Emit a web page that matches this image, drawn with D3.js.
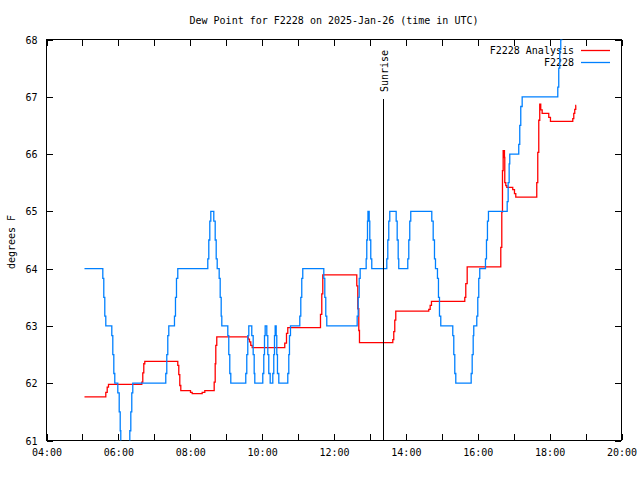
<!DOCTYPE html>
<html><head><meta charset="utf-8">
<script src="https://cdn.jsdelivr.net/npm/d3@7"></script>
<style>
body{margin:0;background:#fff}
text{font-family:"DejaVu Sans Mono","Liberation Mono",monospace;font-size:10px;fill:#000}
</style>
</head><body>
<svg id="c" width="640" height="480"></svg>
<script>
const titleText = "Dew Point for F2228 on 2025-Jan-26 (time in UTC)";
const yAxisLabel = "degrees F";
const xTickHours = [4,5,6,7,8,9,10,11,12,13,14,15,16,17,18,19,20];
const xTickLabels = ["04:00","","06:00","","08:00","","10:00","","12:00","","14:00","","16:00","","18:00","","20:00"];
const yTicks = [61,62,63,64,65,66,67,68];
const sunriseHour = 13.357;
const sunriseLabel = "Sunrise";
const seriesNames = ["F2228 Analysis","F2228"];
const seriesColors = ["#ff0000","#0080ff"];

// F2228 observations (hours UTC, degrees F)
const obsTimes = [5.057,5.567,5.594,5.622,5.650,5.817,5.845,5.873,5.900,5.984,6.023,6.051,6.067,6.318,6.346,6.373,6.401,
 7.319,7.347,7.375,7.403,7.561,7.589,7.617,7.653,8.488,8.516,8.544,8.572,8.655,8.694,8.722,8.750,8.805,8.833,8.861,8.878,
 9.045,9.072,9.100,9.128,9.545,9.573,9.601,9.629,9.712,9.751,9.779,9.796,10.018,10.046,10.066,10.085,10.130,10.158,10.185,10.224,
 10.297,10.324,10.344,10.363,10.391,10.408,10.427,10.464,10.714,10.742,10.761,10.789,11.048,11.076,11.103,11.131,
 11.716,11.744,11.771,11.799,12.645,12.673,12.701,12.728,12.895,12.912,12.932,12.945,12.979,12.996,13.023,13.051,
 13.469,13.497,13.524,13.552,13.730,13.758,13.786,13.802,14.053,14.081,14.108,14.136,14.721,14.760,14.796,14.824,
 14.879,14.907,14.935,14.971,15.305,15.333,15.361,15.389,15.817,15.845,15.873,15.889,15.973,16.001,16.028,16.056,
 16.215,16.243,16.270,16.298,16.819,16.846,16.874,16.891,17.141,17.169,17.197,17.236,18.227,18.254,18.282,18.310,18.338];
const obsValues = [64,63.83,63.5,63.17,63,62.83,62.5,62.17,62,61.83,61.5,61.17,60.5,61.17,61.5,61.83,62,
 62.17,62.5,62.83,63,63.17,63.5,63.83,64,64.17,64.5,64.83,65,64.83,64.5,64.17,64,63.83,63.5,63.17,63,
 62.83,62.5,62.17,62,62.17,62.5,62.83,63,62.83,62.5,62.17,62,62.17,62.5,62.83,63,62.83,62.5,62.17,62,
 62.17,62.5,62.83,63,62.83,62.5,62.17,62,62.17,62.5,62.83,63,63.17,63.5,63.83,64,
 63.83,63.5,63.17,63,63.17,63.5,63.83,64,64.17,64.5,64.83,65,64.83,64.5,64.17,64,
 64.17,64.5,64.83,65,64.83,64.5,64.17,64,64.17,64.5,64.83,65,64.83,64.5,64.17,64,
 63.83,63.5,63.17,63,62.83,62.5,62.17,62,62.17,62.5,62.83,63,63.17,63.5,63.83,64,
 64.17,64.5,64.83,65,65.17,65.5,65.83,66,66.17,66.5,66.83,67,67.17,67.5,67.83,68,68.17];

// F2228 Analysis (hours UTC, degrees F)
const anaTimes = [5.057,5.650,5.689,5.725,6.652,6.679,6.707,6.735,7.653,7.681,7.709,7.737,8.007,8.054,8.332,8.405,
 8.666,8.694,8.711,8.738,9.612,9.648,9.684,9.723,10.630,10.678,10.714,11.624,11.660,11.688,12.634,12.662,12.690,12.709,
 13.636,13.663,13.691,13.719,14.637,14.676,14.712,15.639,15.667,15.706,16.641,16.669,16.688,16.707,16.743,16.752,16.780,16.808,
 16.974,17.022,17.058,17.642,17.670,17.698,17.725,17.753,17.792,17.976,18.023,18.644,18.672,18.699,18.727,18.740];
const anaValues = [61.76,61.84,61.93,61.98,62.02,62.18,62.34,62.38,62.31,62.15,61.96,61.87,61.84,61.82,61.84,61.87,
 62.02,62.34,62.66,62.81,62.77,62.72,62.66,62.62,62.70,62.87,62.97,63.20,63.56,63.89,63.70,63.30,62.92,62.71,
 62.76,62.90,63.10,63.26,63.29,63.36,63.43,63.50,63.74,64.03,64.37,64.99,65.71,66.06,65.94,65.50,65.45,65.42,
 65.38,65.31,65.25,65.50,66.03,66.59,66.87,66.77,66.71,66.64,66.57,66.62,66.71,66.78,66.85,66.85];

const svg = d3.select("#c");
const L = 46.5, R = 621.5, T = 39.5, B = 440.5;
const x = d3.scaleLinear().domain([4,20]).range([L,R]);
const y = d3.scaleLinear().domain([61,68]).range([B,T]);

svg.append("rect").attr("width",640).attr("height",480).attr("fill","#fff");

// title
svg.append("text").attr("x",(L+R)/2).attr("y",21).attr("text-anchor","middle")
  .attr("dominant-baseline","middle").text(titleText);

// y label
svg.append("text").attr("transform","translate(12,242) rotate(-90)").attr("text-anchor","middle")
  .attr("dominant-baseline","middle").text(yAxisLabel);

// axes
const gB = svg.append("g").attr("transform",`translate(0,${B-0.5})`)
  .call(d3.axisBottom(x).tickValues(xTickHours).tickSize(-6).tickPadding(9)
    .tickFormat((d,i)=>xTickLabels[i]));
const gT = svg.append("g").attr("transform",`translate(0,${T})`)
  .call(d3.axisTop(x).tickValues(xTickHours).tickSize(-6).tickFormat(""));
const gL = svg.append("g").attr("transform",`translate(${L},0)`)
  .call(d3.axisLeft(y).tickValues(yTicks).tickSize(-6).tickPadding(9).tickFormat(d3.format("d")));
const gR = svg.append("g").attr("transform",`translate(${R-0.5},0)`)
  .call(d3.axisRight(y).tickValues(yTicks).tickSize(-6).tickFormat(""));
[gB,gT,gL,gR].forEach(g=>{
  g.select(".domain").remove();
  g.selectAll("line").attr("stroke","#000").attr("shape-rendering","crispEdges");
  g.selectAll("text").attr("font-family",null).attr("font-size",null).attr("fill","#000");
});
gL.selectAll("text").attr("dy","0.35em");

// frame
svg.append("rect").attr("x",L).attr("y",T).attr("width",R-L-0.5).attr("height",B-T-0.5)
  .attr("fill","none").attr("stroke","#000").attr("shape-rendering","crispEdges");

// legend
seriesNames.forEach((n,i)=>{
  const ly = 50.5 + i*12;
  svg.append("text").attr("x",574).attr("y",ly).attr("text-anchor","end")
    .attr("dominant-baseline","middle").text(n);
  svg.append("line").attr("x1",581).attr("x2",610).attr("y1",ly).attr("y2",ly)
    .attr("stroke",seriesColors[i]).attr("stroke-width",1.3);
});

// clip
svg.append("clipPath").attr("id","plot").append("rect")
  .attr("x",L).attr("y",T).attr("width",R-L).attr("height",B-T);

const line = d3.line().x(d=>x(d[0])).y(d=>y(d[1])).curve(d3.curveStepAfter);
const ana = anaTimes.map((t,i)=>[t,anaValues[i]]);
const obs = obsTimes.map((t,i)=>[t,obsValues[i]]);
const gp = svg.append("g").attr("clip-path","url(#plot)");
gp.append("path").datum(ana).attr("d",line).attr("fill","none").attr("stroke",seriesColors[0])
  .attr("stroke-width",1.3);
gp.append("path").datum(obs).attr("d",line).attr("fill","none").attr("stroke",seriesColors[1])
  .attr("stroke-width",1.3);

// sunrise
const sx = Math.round(x(sunriseHour)) + 0.5;
svg.append("line").attr("x1",sx).attr("x2",sx).attr("y1",99).attr("y2",B-0.5)
  .attr("stroke","#000").attr("shape-rendering","crispEdges");
svg.append("text").attr("transform",`translate(${sx+4},92) rotate(-90)`).attr("text-anchor","start")
  .text(sunriseLabel);
</script>
</body></html>
